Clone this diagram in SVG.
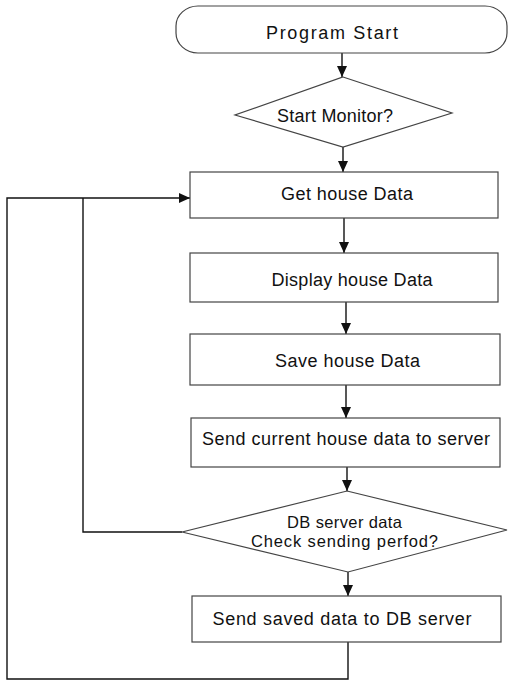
<svg xmlns="http://www.w3.org/2000/svg" width="508" height="681" viewBox="0 0 508 681">
<style>
.node{fill:#fff;stroke:#444;stroke-width:1.2}
.lbl{font-family:"Liberation Sans",Arial,sans-serif;font-size:18px;fill:#111;text-anchor:middle}
.small{font-size:16.5px}
.conn{fill:none;stroke:#111;stroke-width:1.4}
</style>
<defs>
<marker id="arr" markerUnits="userSpaceOnUse" markerWidth="12" markerHeight="10" refX="11" refY="5" orient="auto">
<path d="M0,0 L11,5 L0,10 Z" fill="#111"/>
</marker>
</defs>
<rect width="508" height="681" fill="#fff"/>
<g id="connectors">
<line class="conn" x1="342" y1="53" x2="342" y2="77" marker-end="url(#arr)"/>
<line class="conn" x1="343" y1="147" x2="343" y2="172" marker-end="url(#arr)"/>
<line class="conn" x1="344" y1="218" x2="344" y2="253" marker-end="url(#arr)"/>
<line class="conn" x1="346" y1="302" x2="346" y2="334" marker-end="url(#arr)"/>
<line class="conn" x1="346" y1="385" x2="346" y2="418" marker-end="url(#arr)"/>
<line class="conn" x1="347" y1="467" x2="347" y2="491" marker-end="url(#arr)"/>
<line class="conn" x1="348" y1="572" x2="348" y2="596" marker-end="url(#arr)"/>
<polyline class="conn" points="348,642 348,679 7,679 7,198 83,198"/>
<polyline class="conn" points="182,532 83,532 83,198"/>
<line class="conn" x1="83" y1="198" x2="190" y2="198" stroke-width="2" marker-end="url(#arr)"/>
</g>
<g id="start">
<rect class="node" x="176" y="6" width="331" height="47" rx="22" ry="20"/>
<text class="lbl" x="332" y="39" font-size="19" textLength="132" lengthAdjust="spacing">Program Start</text>
</g>
<g id="startMonitor">
<polygon class="node" points="343,77 452,113 343,147 235,115"/>
<text class="lbl" x="335" y="122" textLength="116" lengthAdjust="spacing">Start Monitor?</text>
</g>
<g id="getData">
<rect class="node" x="190" y="172" width="308" height="46"/>
<text class="lbl" x="347" y="200" textLength="132" lengthAdjust="spacing">Get house Data</text>
</g>
<g id="displayData">
<rect class="node" x="190" y="253" width="308" height="49"/>
<text class="lbl" x="352" y="286" textLength="161" lengthAdjust="spacing">Display house Data</text>
</g>
<g id="saveData">
<rect class="node" x="190" y="334" width="310" height="51"/>
<text class="lbl" x="347.5" y="367" textLength="145" lengthAdjust="spacing">Save house Data</text>
</g>
<g id="sendCurrent">
<rect class="node" x="191" y="418" width="309" height="49"/>
<text class="lbl" x="346" y="445" textLength="288" lengthAdjust="spacing">Send current house data to server</text>
</g>
<g id="checkPeriod">
<polygon class="node" points="347,491 507,530 348,572 182,532"/>
<text class="lbl small" x="344.5" y="528" textLength="115" lengthAdjust="spacing">DB server data</text>
<text class="lbl small" x="344.5" y="547" textLength="187" lengthAdjust="spacing">Check sending perfod?</text>
</g>
<g id="sendSaved">
<rect class="node" x="192" y="596" width="309" height="46"/>
<text class="lbl" x="342" y="625" textLength="259" lengthAdjust="spacing">Send saved data to DB server</text>
</g>
</svg>
